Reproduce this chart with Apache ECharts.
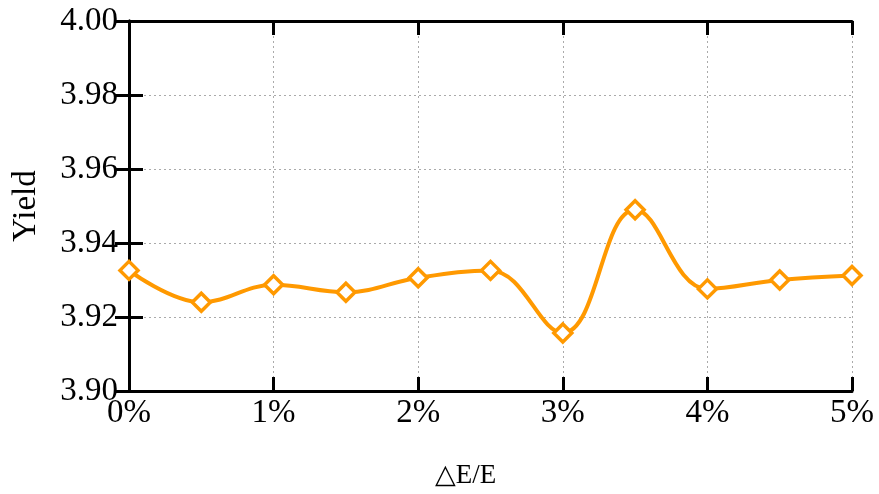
<!DOCTYPE html>
<html>
<head>
<meta charset="utf-8">
<script src="https://cdn.jsdelivr.net/npm/echarts@6/dist/echarts.min.js"></script>
<style>html,body{margin:0;padding:0;background:#fff}#c{width:879px;height:494px}</style>
</head>
<body>
<div id="c"></div>
<script>
const xValues = [0, 0.5, 1, 1.5, 2, 2.5, 3, 3.5, 4, 4.5, 5];
const yieldValues = [3.9326, 3.9240, 3.9287, 3.9267, 3.9306, 3.9326, 3.9157, 3.9490, 3.9276, 3.9300, 3.9312];
const xAxisTitle = '△E/E';
const yAxisTitle = 'Yield';

const FONT = '"Liberation Serif", "Times New Roman", serif';
const chart = echarts.init(document.getElementById('c'), null, {renderer: 'canvas'});
const axisLineStyle = {show: true, lineStyle: {color: '#000', width: 3}};
const tickStyle = {show: true, inside: true, length: 14, lineStyle: {color: '#000', width: 3}};
const gridLine = {show: true, lineStyle: {color: '#aaaaaa', width: 1, type: [2, 3]}};

chart.setOption({
  animation: false,
  backgroundColor: '#fff',
  grid: {left: 129, right: 27, top: 21, bottom: 98, containLabel: false},
  xAxis: [{
    type: 'value', min: 0, max: 5, interval: 1, position: 'bottom',
    axisLine: axisLineStyle, axisTick: tickStyle, splitLine: gridLine,
    axisLabel: {formatter: v => v + '%', fontFamily: FONT, fontSize: 33, color: '#000', margin: 6},
    name: xAxisTitle, nameLocation: 'middle', nameGap: 71,
    nameTextStyle: {fontFamily: FONT, fontSize: 27, color: '#000', padding: [0, 50, 0, 0]}
  }, {
    type: 'value', min: 0, max: 5, interval: 1, position: 'top',
    axisLine: axisLineStyle, axisTick: tickStyle, splitLine: {show: false},
    axisLabel: {show: false}
  }],
  yAxis: [{
    type: 'value', min: 3.90, max: 4.00, interval: 0.02, position: 'left',
    axisLine: axisLineStyle, axisTick: tickStyle, splitLine: gridLine,
    axisLabel: {formatter: v => v.toFixed(2), fontFamily: FONT, fontSize: 33, color: '#000', margin: 11},
    name: yAxisTitle, nameLocation: 'middle', nameGap: 86,
    nameTextStyle: {fontFamily: FONT, fontSize: 33, color: '#000'}
  }, {
    type: 'value', min: 3.90, max: 4.00, interval: 0.02, position: 'right',
    axisLine: axisLineStyle, axisTick: tickStyle, splitLine: {show: false},
    axisLabel: {show: false}
  }],
  series: [{
    type: 'line',
    data: xValues.map((x, i) => [x, yieldValues[i]]),
    smooth: 0.4,
    symbol: 'diamond', symbolSize: 18,
    lineStyle: {color: '#FF9900', width: 4},
    itemStyle: {color: '#fff', borderColor: '#FF9900', borderWidth: 3.5},
    z: 5
  }]
});
</script>
</body>
</html>
